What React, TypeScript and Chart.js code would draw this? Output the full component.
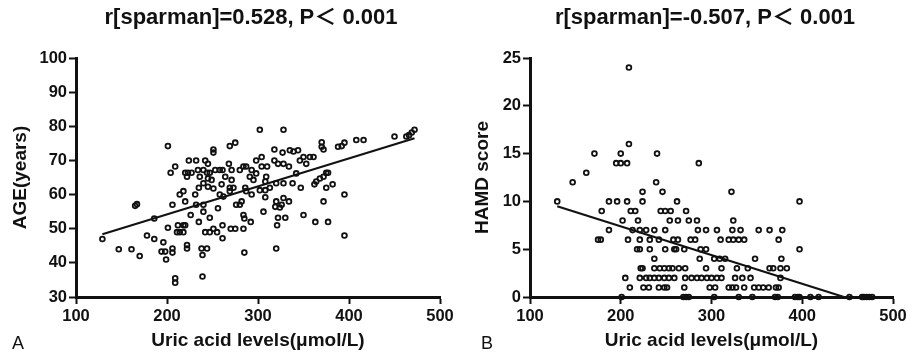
import React, { useEffect, useRef } from "react";
import { Chart, registerables } from "chart.js";

Chart.register(...registerables);

// ---------- Panel A data ----------
const ageUricAcid = [
  129, 147, 161, 170, 165, 167, 178, 186, 186, 196,
  194, 198, 199, 206, 206, 201, 212, 218, 211, 214,
  218, 220, 209, 209, 239, 222, 222, 238, 244, 239,
  285, 320, 261, 242, 247, 251, 255, 226, 240, 247,
  284, 285, 306, 235, 261, 270, 275, 284, 292, 322,
  330, 321, 350, 363, 377, 395, 206, 220, 232, 240,
  256, 276, 280, 282, 320, 326, 328, 334, 319, 324,
  372, 214, 218, 231, 258, 262, 293, 308, 395, 240,
  245, 251, 235, 269, 273, 269, 286, 287, 260, 302,
  308, 313, 328, 338, 347, 320, 222, 236, 245, 249,
  264, 271, 291, 295, 309, 308, 342, 375, 377, 372,
  368, 364, 362, 382, 375, 204, 220, 223, 227, 234,
  240, 244, 247, 253, 258, 261, 271, 280, 284, 287,
  293, 298, 209, 268, 304, 310, 334, 224, 232, 242,
  245, 304, 298, 350, 357, 361, 346, 353, 318, 322,
  328, 251, 251, 318, 335, 344, 339, 327, 201, 269,
  275, 370, 370, 372, 388, 392, 395, 408, 416, 450,
  463, 466, 469, 472, 302, 328,
];
const ageYears = [
  47, 44, 44, 42, 56.7, 57.2, 48, 53, 47, 46,
  43.3, 43.3, 41, 44.2, 43, 50.3, 51, 51, 49, 49,
  49, 51, 35.5, 34.2, 36, 45.2, 44.2, 44.2, 44.2, 42.3,
  43, 44.2, 47.2, 49, 49, 50, 49, 54, 55, 53.2,
  54, 53, 55, 52, 51, 50, 50, 50, 52, 53.2,
  53.2, 51, 54, 52, 52, 48, 57, 58, 57, 57,
  56, 57, 57, 58, 58, 57, 59, 58, 56.4, 56.2,
  58, 60, 61, 60, 60, 59.4, 60, 59.2, 60, 63.3,
  62.3, 61.8, 62, 62, 62, 61, 62, 61, 63, 61.3,
  61.3, 62, 63.3, 63.3, 62, 63.3, 65.2, 65.2, 64.7, 64.3,
  65.2, 64.3, 65.2, 64.3, 65.2, 63.8, 66.2, 66.4, 66.4, 65.2,
  64.7, 63.8, 63, 63, 62, 66.4, 66.4, 66.4, 66.4, 67.2,
  67.2, 66.4, 66.4, 67.2, 67.2, 67.2, 67.2, 67.2, 68.2, 68.2,
  67.2, 66.2, 68.2, 69, 68.2, 68.2, 68.2, 70, 70, 70,
  69, 71, 70, 71, 71, 71, 70, 69, 70, 69,
  69, 73.2, 72.3, 73.2, 73, 73, 72.6, 72.3, 74.2, 74.2,
  75.2, 75.3, 74, 73.2, 74, 74.2, 75.2, 76, 76, 77,
  77, 77.4, 78.2, 79, 79, 79,
];
const ageFitX = [129, 472];
const ageFitY = [48.4, 76.5];

// ---------- Panel B data ----------
const hamdUricAcid = [
  // score 0
  201, 269, 272, 275, 303, 330, 345, 370, 373, 392, 395, 397, 409, 418, 452, 466, 468, 471, 474, 477,
  // score 1
  210, 225, 231, 242, 248, 251, 270, 298, 304, 319, 323, 327, 336, 347, 352, 357, 363, 371, 374,
  // score 2
  205, 221, 228, 232, 237, 242, 248, 253, 259, 271, 278, 284, 289, 295, 300, 306, 311, 326, 334, 343, 376,
  // score 3
  222, 224, 237, 243, 248, 253, 257, 264, 271, 294, 311, 328, 340, 364, 368, 376, 383,
  // score 4
  237, 287, 303, 309, 315, 348, 377,
  // score 5
  218, 221, 232, 249, 259, 261, 270, 288, 294, 397,
  // score 6
  175, 178, 208, 221, 232, 242, 258, 263, 277, 282, 310, 319, 324, 330, 336, 374,
  // score 7
  187, 213, 221, 228, 237, 249, 285, 294, 306, 323, 332, 352, 364, 378,
  // score 8
  202, 219, 254, 263, 275, 284, 324,
  // score 9
  179, 211, 216, 244, 249, 255, 272,
  // score 10
  130, 187, 196, 207, 224, 262, 397,
  // score 11
  224, 246, 322,
  // score 12
  147, 239,
  // score 13
  162,
  // score 14
  195, 200, 207, 286,
  // score 15
  171, 200, 240,
  // score 16
  209,
  // score 24
  209,
];
const hamdScore = [
  0, 0, 0, 0, 0, 0, 0, 0, 0, 0, 0, 0, 0, 0, 0, 0, 0, 0, 0, 0,
  1, 1, 1, 1, 1, 1, 1, 1, 1, 1, 1, 1, 1, 1, 1, 1, 1, 1, 1,
  2, 2, 2, 2, 2, 2, 2, 2, 2, 2, 2, 2, 2, 2, 2, 2, 2, 2, 2, 2, 2,
  3, 3, 3, 3, 3, 3, 3, 3, 3, 3, 3, 3, 3, 3, 3, 3, 3,
  4, 4, 4, 4, 4, 4, 4,
  5, 5, 5, 5, 5, 5, 5, 5, 5, 5,
  6, 6, 6, 6, 6, 6, 6, 6, 6, 6, 6, 6, 6, 6, 6, 6,
  7, 7, 7, 7, 7, 7, 7, 7, 7, 7, 7, 7, 7, 7,
  8, 8, 8, 8, 8, 8, 8,
  9, 9, 9, 9, 9, 9, 9,
  10, 10, 10, 10, 10, 10, 10,
  11, 11, 11,
  12, 12,
  13,
  14, 14, 14, 14,
  15, 15, 15,
  16,
  24,
];
const hamdFitX = [130, 446];
const hamdFitY = [9.5, 0];

// ---------- axes / text ----------
const uricRange = [100, 500, 100];
const ageRange = [30, 100, 10];
const hamdRange = [0, 25, 5];
const xTitle = "Uric acid levels(μmol/L)";
const titleA = "r[sparman]=0.528, P＜ 0.001";
const titleB = "r[sparman]=-0.507, P＜ 0.001";
const yTitleA = "AGE(years)";
const yTitleB = "HAMD score";

const FONT = "'Liberation Sans', Arial, Helvetica, 'Noto Sans CJK SC', sans-serif";
const INK = "#111";

function toPoints(xs: number[], ys: number[]) {
  const n = Math.min(xs.length, ys.length);
  const out: { x: number; y: number }[] = [];
  for (let i = 0; i < n; i++) out.push({ x: xs[i], y: ys[i] });
  return out;
}

function makeConfig(p: {
  xs: number[];
  ys: number[];
  fx: number[];
  fy: number[];
  yRange: number[];
  title: string;
  yTitle: string;
  yTitlePad: number;
  rightSpace: number;
}): any {
  return {
    type: "scatter",
    data: {
      datasets: [
        {
          data: toPoints(p.xs, p.ys),
          showLine: false,
          pointStyle: "circle",
          pointRadius: 2.4,
          pointBorderWidth: 1.8,
          pointBorderColor: INK,
          pointBackgroundColor: "rgba(0,0,0,0)",
          clip: false,
        },
        {
          data: toPoints(p.fx, p.fy),
          showLine: true,
          pointRadius: 0,
          borderColor: INK,
          borderWidth: 2,
          fill: false,
          clip: false,
        },
      ],
    },
    options: {
      responsive: false,
      animation: false,
      devicePixelRatio: 1,
      events: [],
      layout: { padding: 0 },
      plugins: {
        legend: { display: false },
        tooltip: { enabled: false },
        title: {
          display: true,
          text: p.title,
          color: INK,
          font: { family: FONT, size: 22, weight: "bold", lineHeight: 1.2 },
          padding: { top: 5, bottom: 26.6 },
        },
      },
      scales: {
        x: {
          type: "linear",
          min: uricRange[0],
          max: uricRange[1],
          ticks: {
            stepSize: uricRange[2],
            color: INK,
            padding: 3,
            maxRotation: 0,
            font: { family: FONT, size: 16.5, weight: "bold" },
          },
          grid: {
            display: true,
            drawOnChartArea: false,
            drawTicks: true,
            tickLength: 7,
            tickWidth: 2,
            tickColor: INK,
          },
          border: { display: true, color: INK, width: 3 },
          title: {
            display: true,
            text: xTitle,
            color: INK,
            font: { family: FONT, size: 19, weight: "bold", lineHeight: 1.2 },
            padding: { top: 0, bottom: 0 },
          },
          afterFit: (s: any) => {
            s.height = 55;
          },
        },
        y: {
          type: "linear",
          position: "left",
          min: p.yRange[0],
          max: p.yRange[1],
          ticks: {
            stepSize: p.yRange[2],
            color: INK,
            padding: 2,
            font: { family: FONT, size: 16.5, weight: "bold" },
          },
          grid: {
            display: true,
            drawOnChartArea: false,
            drawTicks: true,
            tickLength: 7,
            tickWidth: 2,
            tickColor: INK,
          },
          border: { display: true, color: INK, width: 3 },
          title: {
            display: true,
            text: p.yTitle,
            color: INK,
            font: { family: FONT, size: 19, weight: "bold", lineHeight: 1.2 },
            padding: { top: p.yTitlePad, bottom: 0 },
          },
          afterFit: (s: any) => {
            s.width = 76;
          },
        },
        // empty spacer on the right so the title centres like the original
        spacer: {
          type: "linear",
          position: "right",
          display: true,
          min: p.yRange[0],
          max: p.yRange[1],
          ticks: { display: false },
          grid: { display: false, drawTicks: false },
          border: { display: false },
          title: { display: false },
          afterFit: (s: any) => {
            s.width = p.rightSpace;
          },
        },
      },
    },
  };
}

function Panel(props: { left: number; config: any }) {
  const ref = useRef<HTMLCanvasElement | null>(null);
  useEffect(() => {
    if (!ref.current) return;
    const chart = new Chart(ref.current, props.config);
    return () => chart.destroy();
  }, []);
  return (
    <canvas
      ref={ref}
      width={502}
      height={352}
      style={{ position: "absolute", left: props.left, top: 0, width: 502, height: 352 }}
    />
  );
}

const labelStyle: React.CSSProperties = {
  position: "absolute",
  top: 334,
  fontFamily: FONT,
  fontSize: 18,
  lineHeight: "18px",
  color: INK,
};

export default function App() {
  const cfgA = makeConfig({
    xs: ageUricAcid,
    ys: ageYears,
    fx: ageFitX,
    fy: ageFitY,
    yRange: ageRange,
    title: titleA,
    yTitle: yTitleA,
    yTitlePad: 9,
    rightSpace: 62,
  });
  const cfgB = makeConfig({
    xs: hamdUricAcid,
    ys: hamdScore,
    fx: hamdFitX,
    fy: hamdFitY,
    yRange: hamdRange,
    title: titleB,
    yTitle: yTitleB,
    yTitlePad: 17,
    rightSpace: 63,
  });
  return (
    <div
      style={{
        position: "absolute",
        left: 0,
        top: 0,
        width: 908,
        height: 352,
        overflow: "hidden",
        background: "#fff",
      }}
    >
      <Panel left={454} config={cfgB} />
      <Panel left={0} config={cfgA} />
      <span style={{ ...labelStyle, left: 12 }}>A</span>
      <span style={{ ...labelStyle, left: 481 }}>B</span>
    </div>
  );
}
